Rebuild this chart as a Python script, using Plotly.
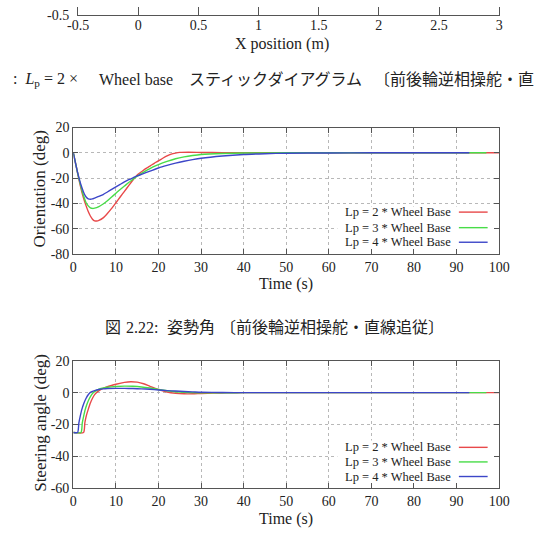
import plotly.graph_objects as go

W = H = 537

# ---------------- data ----------------
series_names = ["Lp = 2 * Wheel Base", "Lp = 3 * Wheel Base", "Lp = 4 * Wheel Base"]
series_colors = ["#e8494a", "#48dc48", "#3c46c8"]

# Orientation (deg) vs time (s)
ori_t_lp2 = [0, 0.5, 1, 1.5, 2, 2.5, 3, 3.5, 4, 4.5, 5, 5.5, 6, 7, 8, 9, 10, 11, 12, 13, 14, 15, 16, 17, 18, 19, 20, 21, 22, 23, 24, 25, 27, 30, 35, 40, 100]
ori_v_lp2 = [0, -8, -16, -24, -31, -37, -42, -46.5, -50, -52.5, -53.8, -54, -53.5, -51.5, -48, -44, -39.5, -35, -30.5, -26, -21.5, -17.5, -15, -12.5, -10.5, -8.3, -6.4, -4.3, -2.4, -1, -0.2, 0.3, 0.5, 0.3, 0.1, 0, 0]

ori_t_lp3 = [0, 0.5, 1, 1.5, 2, 2.5, 3, 3.5, 4, 4.5, 5, 6, 7, 8, 9, 10, 11, 12, 13, 14, 15, 16, 17, 18, 19, 20, 22, 24, 26, 28, 30, 35, 40, 50, 97]
ori_v_lp3 = [0, -8, -16, -23, -29.5, -35, -39.5, -42, -43.5, -44, -43.8, -42.5, -40.5, -38, -35, -32, -29, -26.3, -23.5, -21, -18.5, -16.3, -14.3, -12.5, -10.8, -9.3, -6.8, -4.7, -3.2, -2.1, -1.3, -0.5, -0.2, 0, 0]

ori_t_lp4 = [0, 0.5, 1, 1.5, 2, 2.5, 3, 3.5, 4, 4.5, 5, 6, 7, 8, 9, 10, 11, 12, 13, 14, 15, 16, 18, 20, 22, 24, 26, 28, 30, 35, 40, 45, 50, 60, 70, 93]
ori_v_lp4 = [0, -8, -15.5, -22, -27.5, -32, -35, -36.5, -36.8, -36.5, -35.8, -34.5, -33, -31, -29, -27, -25, -23, -21.3, -19.8, -18.3, -17, -14.5, -12, -10, -8.2, -6.7, -5.4, -4.3, -2.5, -1.3, -0.7, -0.3, -0.1, 0, 0]

# Steering angle (deg) vs time (s)
st_t_lp2 = [0, 2.4, 2.7, 3, 3.5, 4, 4.5, 5, 5.5, 6.5, 8, 10, 12, 13.5, 15, 16.5, 18, 20, 22, 24, 26, 28, 30, 33, 36, 40, 100]
st_v_lp2 = [-25, -25, -19, -15, -10.5, -6.5, -3.5, -1.2, 0.2, 2, 3.8, 5.3, 6.5, 6.9, 6.6, 5.6, 4.0, 2.0, 0.4, -0.4, -0.7, -0.7, -0.5, -0.3, -0.1, 0, 0]

st_t_lp3 = [0, 1.8, 2.1, 2.4, 2.8, 3.3, 3.8, 4.3, 4.8, 5.5, 6.5, 8, 10, 12, 14, 16, 18, 20, 22, 24, 26, 28, 30, 35, 40, 97]
st_v_lp3 = [-25, -25, -19, -15, -10.5, -6.5, -3.5, -1.2, 0.3, 1.5, 2.6, 3.4, 3.9, 4.1, 4.0, 3.6, 2.9, 2.0, 1.2, 0.6, 0.2, 0, -0.1, -0.1, 0, 0]

st_t_lp4 = [0, 1.0, 1.3, 1.6, 2, 2.5, 3, 3.5, 4, 5, 6, 7, 8, 10, 12, 14, 16, 18, 20, 22, 24, 26, 28, 30, 35, 40, 93]
st_v_lp4 = [-25, -25, -19, -15, -10.5, -6.5, -3.5, -1.3, 0.2, 1.3, 2.0, 2.4, 2.6, 2.7, 2.7, 2.6, 2.4, 2.1, 1.7, 1.3, 1.0, 0.7, 0.5, 0.3, 0.1, 0, 0]

# tick labels
time_ticks = [0, 10, 20, 30, 40, 50, 60, 70, 80, 90, 100]
ori_ticks = [-80, -60, -40, -20, 0, 20]
st_ticks = [-60, -40, -20, 0, 20]
xpos_ticks = [-0.5, 0, 0.5, 1, 1.5, 2, 2.5, 3]
xpos_labels = ["-0.5", "0", "0.5", "1", "1.5", "2", "2.5", "3"]
top_y_ticks = [-0.5]
top_y_labels = ["-0.5"]

caption1_parts = [":  ", "Wheel base", "スティックダイアグラム", "〔前後輪逆相操舵・直"]
caption2_parts = ["図", "2.22:", "姿勢角", "〔前後輪逆相操舵・直線追従〕"]

# ---------------- helpers ----------------
def px_x(p):
    return p / W

def px_y(p):
    return 1 - p / H

SERIF = "Liberation Serif, Times New Roman, serif"
CJK = "Liberation Serif, Noto Sans CJK JP, serif"
FRAME = "#555555"
GRID = "#b8b8b8"
TXT = "#222222"

fig = go.Figure()

ori_data = [(ori_t_lp2, ori_v_lp2), (ori_t_lp3, ori_v_lp3), (ori_t_lp4, ori_v_lp4)]
st_data = [(st_t_lp2, st_v_lp2), (st_t_lp3, st_v_lp3), (st_t_lp4, st_v_lp4)]

for (t, v), c, n in zip(ori_data, series_colors, series_names):
    fig.add_trace(go.Scatter(x=t, y=v, mode="lines", line=dict(color=c, width=1.4, shape="spline", smoothing=0.6),
                             name=n, showlegend=False, xaxis="x", yaxis="y"))
for (t, v), c, n in zip(st_data, series_colors, series_names):
    fig.add_trace(go.Scatter(x=t, y=v, mode="lines", line=dict(color=c, width=1.4, shape="spline", smoothing=0.6),
                             name=n, showlegend=False, xaxis="x2", yaxis="y2"))
# top (mostly cut-off) chart
fig.add_trace(go.Scatter(x=[], y=[], mode="lines", showlegend=False, xaxis="x3", yaxis="y3"))

def time_axis(anchor):
    return dict(domain=[px_x(65), px_x(509)], range=[0, 100], tickvals=time_ticks,
                ticktext=[str(v) for v in time_ticks], anchor=anchor,
                ticks="inside", ticklen=5, tickcolor=FRAME, showline=True, linecolor=FRAME, linewidth=1.3,
                mirror="ticks", showgrid=True, gridcolor=GRID, griddash="dot", gridwidth=1,
                zeroline=False, tickfont=dict(family=SERIF, size=14, color=TXT))

def val_axis(anchor, top, bot, ticks, rng):
    return dict(domain=[px_y(bot), px_y(top)], range=rng, tickvals=ticks,
                ticktext=[str(v) for v in ticks], anchor=anchor,
                ticks="inside", ticklen=5, tickcolor=FRAME, showline=True, linecolor=FRAME, linewidth=1.3,
                mirror="ticks", showgrid=True, gridcolor=GRID, griddash="dot", gridwidth=1,
                zeroline=False, tickfont=dict(family=SERIF, size=14, color=TXT))

layout = dict(
    width=W, height=H, margin=dict(l=0, r=0, t=0, b=0),
    paper_bgcolor="white", plot_bgcolor="white",
    showlegend=False,
    xaxis=time_axis("y"),
    yaxis=val_axis("x", 124, 254, ori_ticks, [-80, 20]),
    xaxis2=time_axis("y2"),
    yaxis2=val_axis("x2", 364, 495, st_ticks, [-60, 20]),
    xaxis3=dict(domain=[px_x(70), px_x(509)], range=[-0.5, 3], tickvals=xpos_ticks, ticktext=xpos_labels,
                anchor="y3", ticks="inside", ticklen=8, tickcolor=FRAME, showline=True, linecolor=FRAME,
                linewidth=1.3, mirror=False, showgrid=False, zeroline=False, ticklabelstandoff=-3,
                tickfont=dict(family=SERIF, size=14, color=TXT)),
    yaxis3=dict(domain=[px_y(8), 1], range=[-0.5, -0.45], tickvals=top_y_ticks, ticktext=top_y_labels,
                anchor="x3", ticks="", showline=True, linecolor=FRAME, linewidth=1.3, mirror=True,
                showgrid=False, zeroline=False, ticklabelstandoff=5,
                tickfont=dict(family=SERIF, size=14, color=TXT)),
)
fig.update_layout(**layout)

shapes = []
annotations = []

# opaque legend boxes (gnuplot style)
shapes.append(dict(type="rect", xref="x", yref="y", x0=62, x1=100, y0=-80, y1=-42.5,
                   fillcolor="white", line=dict(width=0), layer="between"))
shapes.append(dict(type="rect", xref="x2", yref="y2", x0=62, x1=100, y0=-60, y1=-30,
                   fillcolor="white", line=dict(width=0), layer="between"))

# legends
for rows in ([211, 227, 242], [453, 468, 483]):
    for ry, c, n in zip(rows, series_colors, series_names):
        shapes.append(dict(type="line", xref="paper", yref="paper", x0=px_x(467), x1=px_x(497),
                           y0=px_y(ry), y1=px_y(ry), line=dict(color=c, width=1.4)))
        annotations.append(dict(text=n, xref="paper", yref="paper", x=px_x(461), y=px_y(ry),
                                xanchor="right", yanchor="middle", showarrow=False,
                                font=dict(family=SERIF, size=12.5, color=TXT)))

# axis titles
annotations.append(dict(text="Orientation (deg)", xref="paper", yref="paper", x=px_x(30), y=px_y(187),
                        textangle=-90, showarrow=False, xanchor="center", yanchor="middle",
                        font=dict(family=SERIF, size=17, color=TXT)))
annotations.append(dict(text="Steering angle (deg)", xref="paper", yref="paper", x=px_x(30), y=px_y(428),
                        textangle=-90, showarrow=False, xanchor="center", yanchor="middle",
                        font=dict(family=SERIF, size=17, color=TXT)))
for ty in (285, 527):
    annotations.append(dict(text="Time (s)", xref="paper", yref="paper", x=px_x(287), y=px_y(ty),
                            showarrow=False, xanchor="center", yanchor="middle",
                            font=dict(family=SERIF, size=16, color=TXT)))
annotations.append(dict(text="X position (m)", xref="paper", yref="paper", x=px_x(283), y=px_y(38),
                        showarrow=False, xanchor="center", yanchor="middle",
                        font=dict(family=SERIF, size=16, color=TXT)))

# captions
cap1_y = 75
annotations.append(dict(text=caption1_parts[0] + "<i>L</i><sub>p</sub> = 2 ×", xref="paper", yref="paper",
                        x=px_x(0), y=px_y(cap1_y), xanchor="left", yanchor="middle", showarrow=False,
                        font=dict(family=SERIF, size=16, color=TXT)))
annotations.append(dict(text=caption1_parts[1], xref="paper", yref="paper", x=px_x(90), y=px_y(cap1_y),
                        xanchor="left", yanchor="middle", showarrow=False,
                        font=dict(family=SERIF, size=16, color=TXT)))
annotations.append(dict(text=caption1_parts[2], xref="paper", yref="paper", x=px_x(184), y=px_y(cap1_y),
                        xanchor="left", yanchor="middle", showarrow=False,
                        font=dict(family=CJK, size=16, color=TXT)))
annotations.append(dict(text=caption1_parts[3], xref="paper", yref="paper", x=px_x(376), y=px_y(cap1_y),
                        xanchor="left", yanchor="middle", showarrow=False,
                        font=dict(family=CJK, size=16, color=TXT)))

cap2_y = 330
for txt, xl, fam in zip(caption2_parts, [96, 118, 161, 216], [CJK, SERIF, CJK, CJK]):
    annotations.append(dict(text=txt, xref="paper", yref="paper", x=px_x(xl), y=px_y(cap2_y),
                            xanchor="left", yanchor="middle", showarrow=False,
                            font=dict(family=fam, size=16, color=TXT)))

fig.update_layout(shapes=shapes, annotations=annotations)
fig.write_html("out.html")
